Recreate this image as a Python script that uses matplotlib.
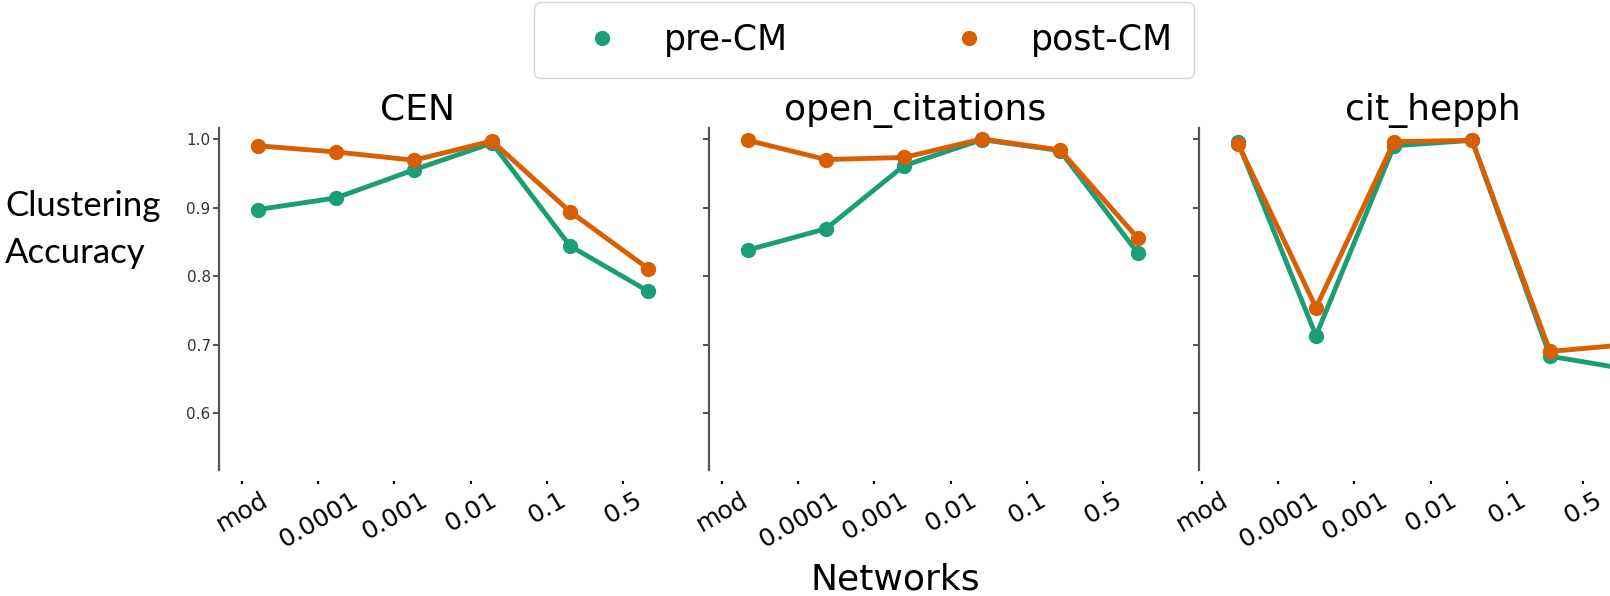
import matplotlib.pyplot as plt
import numpy as np
from matplotlib.lines import Line2D

# resolution settings along the x axis
networks = ['mod', '0.0001', '0.001', '0.01', '0.1', '0.5']
datasets = ['CEN', 'open_citations', 'cit_hepph']

# clustering accuracy before / after CM, one list per dataset
cen_pre = [0.897, 0.914, 0.955, 0.994, 0.844, 0.778]
cen_post = [0.990, 0.981, 0.969, 0.997, 0.894, 0.811]
oc_pre = [0.838, 0.869, 0.961, 0.999, 0.983, 0.833]
oc_post = [0.998, 0.970, 0.973, 1.000, 0.984, 0.855]
hep_pre = [0.995, 0.713, 0.990, 0.998, 0.683, 0.664]
hep_post = [0.993, 0.754, 0.996, 0.998, 0.690, 0.700]

pre_vals = [cen_pre, oc_pre, hep_pre]
post_vals = [cen_post, oc_post, hep_post]

green = '#1b9e77'
orange = '#d95f02'

W, H = 1610, 596
fig = plt.figure(figsize=(W / 100, H / 100), dpi=100)

def px_box(x0, y_top, w, h):
    # pixel box (top-left origin) -> figure fraction
    return [x0 / W, 1 - (y_top + h) / H, w / W, h / H]

panel_left = [219, 709, 1199]
tick_left = [204, 684, 1164]
title_x = [0.425, 0.44, 0.5]
x = np.arange(len(networks))

for k, name in enumerate(datasets):
    ax = fig.add_axes(px_box(panel_left[k], 128, 468, 342))
    ax.plot(x, pre_vals[k], color=green, lw=3.5, marker='o', ms=10, zorder=3)
    ax.plot(x, post_vals[k], color=orange, lw=3.5, marker='o', ms=10, zorder=4)
    ax.set_xlim(-0.5, 5.5)
    ax.set_ylim(0.517, 1.016)
    ax.set_yticks([0.6, 0.7, 0.8, 0.9, 1.0])
    ax.tick_params(axis='y', length=4, width=1.2, color='#333333',
                   labelsize=11, labelcolor='#333333', pad=2)
    if k > 0:
        ax.set_yticklabels([])
    ax.set_xticks([])
    for s in ['top', 'right', 'bottom']:
        ax.spines[s].set_visible(False)
    ax.spines['left'].set_color('#555555')
    ax.spines['left'].set_linewidth(1.6)
    ax.set_title(name, fontsize=26, pad=6, x=title_x[k])

    # category labels sit on their own strip below the panel
    tx = fig.add_axes(px_box(tick_left[k], 480, 457, 0.5))
    tx.set_xlim(-0.5, 5.5)
    tx.set_xticks(x)
    tx.set_xticklabels(networks, rotation=30, ha='center', fontsize=18)
    tx.set_yticks([])
    tx.tick_params(axis='x', length=2.5, width=1.5, pad=3)
    for s in tx.spines.values():
        s.set_visible(False)
    tx.patch.set_alpha(0)

fig.text(5 / W, 1 - 216 / H, 'Clustering', fontsize=25, family='Lato',
         va='baseline', ha='left')
fig.text(5 / W, 1 - 263 / H, 'Accuracy', fontsize=25, family='Lato',
         va='baseline', ha='left')
fig.text(895 / W, 1 - 590 / H, 'Networks', fontsize=26, va='baseline', ha='center')

handles = [Line2D([], [], ls='', marker='o', ms=10, color=green),
           Line2D([], [], ls='', marker='o', ms=10, color=orange)]
fig.legend(handles, ['pre-CM', 'post-CM'], loc='upper center',
           bbox_to_anchor=(864 / W, 1 - 2 / H), borderaxespad=0, ncol=2,
           fontsize=25, handlelength=2.7, handletextpad=0.45, columnspacing=3.85,
           borderpad=0.6, frameon=True, edgecolor='#cccccc', fancybox=True)

fig.savefig('out.png', dpi=100)
